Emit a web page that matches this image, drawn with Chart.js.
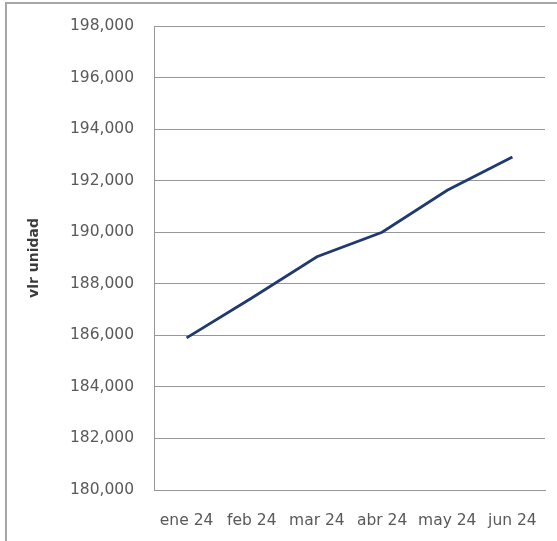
<!DOCTYPE html>
<html>
<head>
<meta charset="utf-8">
<script src="https://cdn.jsdelivr.net/npm/chart.js@4"></script>
<style>
  html, body { margin: 0; padding: 0; background: #fff; }
  #wrap { position: relative; width: 557px; height: 541px; }
  #frame { position: absolute; left: 5px; top: 2px; right: 0; bottom: 0;
           border-top: 2px solid #a6a6a6; border-left: 2px solid #a6a6a6; }
  canvas { position: absolute; left: 0; top: 0; }
</style>
</head>
<body>
<div id="wrap">
  <div id="frame"></div>
  <canvas id="vlrChart" width="557" height="541"></canvas>
</div>
<script>
var meses = ["ene 24", "feb 24", "mar 24", "abr 24", "may 24", "jun 24"];
var vlrUnidad = [185900, 187450, 189050, 190000, 191630, 192920];
var ejeMin = 180000;
var ejeMax = 198000;
var ejePaso = 2000;

var ctx = document.getElementById('vlrChart').getContext('2d');
var chart = new Chart(ctx, {
    type: 'line',
    data: {
        labels: meses,
        datasets: [{
            label: "vlr unidad",
            data: vlrUnidad,
            borderColor: '#1f3a6e',
            borderWidth: 2.8,
            pointRadius: 0,
            tension: 0,
            fill: false
        }]
    },
    options: {
        responsive: false,
        animation: false,
        layout: { padding: { left: 24, top: 26, right: 12, bottom: 0 } },
        plugins: {
            legend: { display: false },
            tooltip: { enabled: false }
        },
        scales: {
            x: {
                offset: true,
                grid: { display: false, drawTicks: false },
                border: { display: true, color: '#979797', width: 1 },
                ticks: {
                    color: '#595959',
                    padding: 22,
                    maxRotation: 0,
                    autoSkip: false,
                    font: { family: 'DejaVu Sans', size: 15.5 }
                },
                afterFit: function (scale) {
                    scale.height = 541 - 490;
                    scale.paddingLeft = 0;
                    scale.paddingRight = 0;
                }
            },
            y: {
                min: ejeMin,
                max: ejeMax,
                grid: { color: '#979797', lineWidth: 1, drawTicks: false },
                border: { display: true, color: '#979797', width: 1 },
                ticks: {
                    stepSize: ejePaso,
                    color: '#595959',
                    padding: 20,
                    font: { family: 'DejaVu Sans', size: 15.5 },
                    callback: function (v) { return v.toLocaleString('en-US'); }
                },
                title: {
                    display: true,
                    text: 'vlr unidad',
                    color: '#3a3a3a',
                    padding: { top: 2, bottom: 0 },
                    font: { family: 'DejaVu Sans', size: 14, weight: 'bold' }
                },
                afterFit: function (scale) {
                    scale.width = 154 - 24;
                    scale.paddingTop = 0;
                    scale.paddingBottom = 0;
                }
            }
        }
    }
});
</script>
</body>
</html>
